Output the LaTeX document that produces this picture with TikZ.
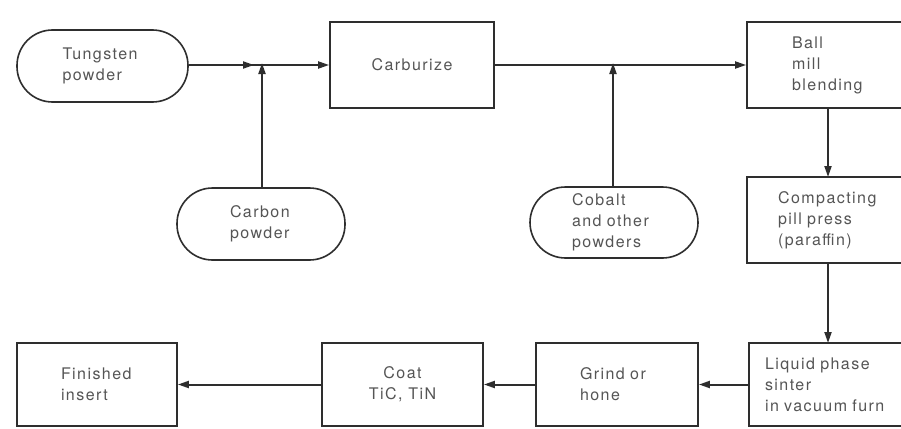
\documentclass[tikz,border=0pt]{standalone}
\usepackage{fontspec}
\setmainfont{TeX Gyre Heros}[LetterSpace=9]
\usetikzlibrary{arrows.meta}
\definecolor{ink}{HTML}{2E2E2E}
\definecolor{txt}{HTML}{555555}
\begin{document}
\begin{tikzpicture}[x=1pt,y=-1pt,
  every node/.style={font=\fontsize{16}{21}\selectfont, text=txt, inner sep=0pt},
  boxnode/.style={draw=ink, line width=1.8pt, rectangle},
  pill/.style={draw=ink, line width=1.6pt, rectangle, rounded corners=35.5pt, minimum height=72pt},
  flow/.style={draw=ink, line width=2pt, -{Triangle[length=11pt,width=7pt]}},
  plain/.style={draw=ink, line width=2pt}]
\useasboundingbox (0,0) rectangle (901,428);
\fill[white] (0,0) rectangle (901,428);
\begin{scope}
\clip (0,0) rectangle (901,428);
% top row
\node[pill, minimum width=171pt, text width=80pt, align=left] (tung) at (102.5,66) {Tungsten\\powder};
\node[boxnode, minimum width=164pt, minimum height=86pt] (carb) at (412,65) {Carburize};
\node[boxnode, minimum width=213pt, minimum height=86pt, text width=123pt, align=left] (ball) at (853.5,65) {Ball\\mill\\blending};
% sources
\node[pill, minimum width=168pt, text width=62pt, align=left] (carbon) at (261,224) {Carbon\\powder};
\node[pill, minimum width=168pt, minimum height=71pt, text width=84pt, align=left] (cobalt) at (614,222.5) {Cobalt\\and other\\powders};
% right column
\node[boxnode, minimum width=213pt, minimum height=86pt, text width=151pt, align=left] (comp) at (853.5,220) {Compacting\\pill press\\(paraffin)};
\node[boxnode, minimum width=211pt, minimum height=83pt, text width=179pt, align=left] (liq) at (854.5,384.5) {Liquid phase\\sinter\\in vacuum furn};
% bottom row
\node[boxnode, minimum width=162pt, minimum height=83pt, text width=74pt, align=left] (grind) at (617,384.5) {Grind or\\hone};
\node[boxnode, minimum width=161pt, minimum height=83pt, align=center] (coat) at (402.5,384.5) {Coat\\TiC, TiN};
\node[boxnode, minimum width=160pt, minimum height=83pt, text width=72pt, align=left] (fin) at (97,384.5) {Finished\\insert};
% junctions
\coordinate (j1) at (262,65);
\coordinate (j2) at (613,65);
\coordinate (j1a) at (254,65);
\coordinate (bm) at (828,108);
\coordinate (cm) at (828,177);
\coordinate (cs) at (828,263);
\coordinate (lq) at (828,343);
% connectors
\draw[plain] (tung.east |- j1) -- (j1);
\draw[flow] (tung.east |- j1) -- (j1a);
\draw[flow] (j1) -- (carb.west |- j1);
\draw[flow] (carbon.north -| j1) -- ([yshift=2pt]j1);
\draw[flow] (carb.east |- j2) -- (ball.west |- j2);
\draw[flow] (cobalt.north -| j2) -- ([yshift=2pt]j2);
\draw[flow] (bm) -- (cm);
\draw[flow] (cs) -- (lq);
\draw[flow] (liq.west) -- (grind.east);
\draw[flow] (grind.west) -- (coat.east);
\draw[flow] (coat.west) -- (fin.east);
\end{scope}
\end{tikzpicture}
\end{document}
